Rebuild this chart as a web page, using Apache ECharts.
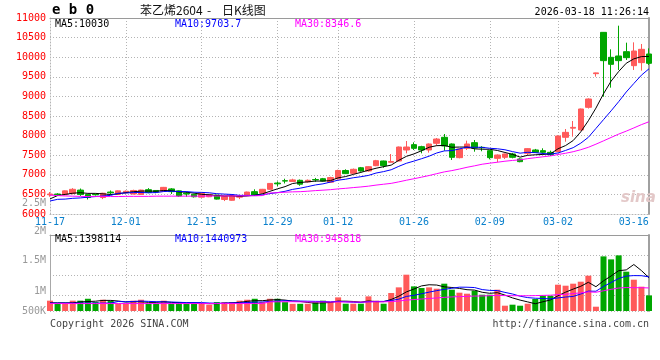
<!DOCTYPE html>
<html><head><meta charset="utf-8">
<script src="https://cdn.jsdelivr.net/npm/echarts@6/dist/echarts.min.js"></script>
<style>html,body{margin:0;padding:0;background:#fff}#c{width:660px;height:360px}</style>
</head><body><div id="c"></div>
<script>
// ---- data ----
const dates = ['11-17','11-18','11-19','11-20','11-21','11-24','11-25','11-26','11-27','11-28',
'12-01','12-02','12-03','12-04','12-05','12-08','12-09','12-10','12-11','12-12',
'12-15','12-16','12-17','12-18','12-19','12-22','12-23','12-24','12-25','12-26',
'12-29','12-30','12-31','01-05','01-06','01-07','01-08','01-09',
'01-12','01-13','01-14','01-15','01-16','01-19','01-20','01-21','01-22','01-23',
'01-26','01-27','01-28','01-29','01-30','02-02','02-03','02-04','02-05','02-06',
'02-09','02-10','02-11','02-12','02-13','02-24','02-25','02-26','02-27',
'03-02','03-03','03-04','03-05','03-06','03-09','03-10','03-11','03-12','03-13',
'03-16','03-17','03-18'];
const xTickLabels = ['11-17','12-01','12-15','12-29','01-12','01-26','02-09','03-02','03-16'];
const opens  = [6490,6510,6490,6520,6610,6500,6500,6420,6560,6500,6540,6510,6500,6620,6600,6580,6640,6590,6530,6500,
6430,6440,6480,6370,6350,6430,6470,6570,6530,6630,6790,6850,6830,6860,6820,6880,6900,6810,6900,7110,
7037,7180,7097,7233,7352,7320,7352,7633,7769,7718,7633,7803,7956,7786,7437,7675,7820,7700,7616,7420,
7446,7531,7403,7548,7633,7616,7573,7590,7956,8190,8143,8721,9580,10634,9997,10031,10141,9784,9861,10082];
const closes = [6510,6490,6590,6630,6500,6420,6490,6530,6540,6590,6580,6600,6610,6550,6560,6680,6570,6460,6510,6440,
6530,6500,6380,6450,6460,6450,6560,6470,6630,6780,6770,6840,6870,6760,6860,6870,6840,6930,7110,7030,
7140,7097,7207,7360,7233,7340,7709,7709,7675,7633,7786,7913,7735,7446,7658,7786,7684,7690,7437,7505,
7531,7446,7335,7667,7573,7573,7514,7990,8083,8210,8679,8934,9600,9912,9818,9912,9988,10158,10201,9844];
const highs  = [6560,6530,6600,6660,6650,6510,6520,6540,6600,6600,6600,6620,6620,6660,6610,6690,6660,6600,6570,6510,
6540,6510,6490,6460,6470,6480,6570,6630,6640,6790,6830,6900,6900,6880,6880,6920,6920,6950,7130,7140,
7160,7200,7220,7380,7360,7530,7720,7862,7828,7740,7800,7939,8041,7800,7670,7871,7888,7730,7630,7520,
7540,7560,7420,7676,7660,7676,7616,8000,8168,8373,8690,8950,9605,10640,10201,10804,10371,10379,10337,10226];
const lows   = [6440,6470,6480,6500,6460,6370,6470,6380,6500,6490,6520,6500,6490,6530,6530,6570,6510,6440,6440,6420,
6420,6430,6370,6330,6340,6380,6460,6460,6520,6620,6710,6780,6820,6720,6800,6820,6830,6800,6880,7020,
7020,7080,7080,7220,7180,7310,7340,7548,7633,7548,7565,7743,7616,7378,7420,7633,7590,7600,7395,7318,
7403,7420,7320,7505,7560,7530,7480,7580,7845,7973,8130,8690,9504,8993,9223,9674,9929,9674,9657,9801];
const volumes = [430000,300000,300000,430000,430000,510000,370000,470000,430000,300000,
300000,430000,470000,300000,300000,430000,300000,370000,300000,300000,
300000,260000,370000,370000,370000,430000,470000,510000,370000,510000,
510000,370000,300000,300000,300000,370000,430000,374000,568000,304000,
304000,304000,610000,429000,304000,749000,985000,1513000,1026000,957000,
985000,929000,1138000,888000,763000,721000,846000,679000,679000,888000,
221000,263000,221000,304000,499000,638000,638000,1096000,1054000,1138000,
1221000,1471000,179000,2276000,2151000,2318000,1638000,1304000,1013000,651000];
const ma5Lead  = [6385,6470,6500,6530];
const ma10Lead = [6332,6374,6380,6400,6410,6430,6445,6460,6475];
const ma30Lead = [6480,6470,6460,6455,6450,6445,6445,6445,6445,6445,6450,6450,6450,6450,6455,6455,6455,6455,6455,6455,6455,6460,6460,6460,6460,6460,6465,6465,6470];
const volMa5Lead  = [340000,340000,340000,340000];
const volMa10Lead = [330000,330000,330000,330000,330000,330000,330000,330000,330000];
const volMa30Lead = [310000,310000,310000,310000,310000,310000,310000,310000,310000,310000,310000,310000,310000,310000,310000,310000,310000,310000,310000,310000,310000,310000,310000,310000,310000,310000,310000,310000,310000];
const mainTicks = {min:6000, max:11000, step:500};
const volTickLabels = ['500K','1M','1.5M','2M','2.5M'];
const volTickPos = [0,20,51,80,108];
const header = {code:'e b 0', name:'苯乙烯2604', dash:'-', kind:'日K线图', time:'2026-03-18 11:26:14'};
const maText = ['MA5:10030','MA10:9703.7','MA30:8346.6'];
const volMaText = ['MA5:1398114','MA10:1440973','MA30:945818'];

// ---- helpers ----
function ma(arr, n, lead){
  return arr.map((_, i) => {
    if (i < n - 1) return lead[i];
    let s = 0; for (let k = i - n + 1; k <= i; k++) s += arr[k];
    return +(s / n).toFixed(2);
  });
}
const RED = '#ff5a5a', GREEN = '#00a600';
const MONO = '"DejaVu Sans Mono", "Liberation Mono", monospace';
const kData = opens.map((o, i) => [o, closes[i], lows[i], highs[i]]);
const volData = volumes.map((v, i) => ({value: v, itemStyle: {color: closes[i] >= opens[i] ? RED : GREEN}}));
const isTick = (i, v) => xTickLabels.includes(v);
const isGrid = (i, v) => xTickLabels.includes(v) && v !== xTickLabels[xTickLabels.length - 1] && i > 0;
const dotted = {color: '#b4b4b4', type: [1, 2], width: 1};

function txt(x, y, t, fill, font, align){
  return {type:'text', x, y, silent:true, z:100,
    style:{text:t, fill, font, align: align||'left', verticalAlign:'middle', textAlign: align||'left', textVerticalAlign:'middle'}};
}

const chart = echarts.init(document.getElementById('c'), null, {renderer:'canvas'});
const line = (name, data, color, xi, yi) => ({name, type:'line', data, xAxisIndex:xi, yAxisIndex:yi, showSymbol:false,
  symbol:'none', lineStyle:{color, width:1}, itemStyle:{color}, animation:false, silent:true, z:5});

chart.setOption({
  animation:false,
  backgroundColor:'#fff',
  grid:[
    {left:50, top:18, width:599, height:196},
    {left:50, top:235, width:599, height:76},
    {left:50, top:203, width:599, height:108}
  ],
  xAxis:[
    {type:'category', gridIndex:0, data:dates, boundaryGap:false, position:'bottom',
     axisLine:{show:true, lineStyle:dotted}, axisTick:{show:false},
     axisLabel:{interval:isTick, color:'#0a80cc', fontFamily:MONO, fontSize:10, margin:3, hideOverlap:false},
     splitLine:{show:true, interval:isGrid, lineStyle:dotted}},
    {type:'category', gridIndex:0, data:dates, boundaryGap:false, position:'top',
     axisLine:{show:true, lineStyle:{color:'#9a9a9a', width:1}}, axisTick:{show:false}, axisLabel:{show:false}, splitLine:{show:false}},
    {type:'category', gridIndex:1, data:dates, boundaryGap:false, position:'bottom',
     axisLine:{show:false}, axisTick:{show:false}, axisLabel:{show:false},
     splitLine:{show:true, interval:isGrid, lineStyle:dotted}},
    {type:'category', gridIndex:1, data:dates, boundaryGap:false, position:'top',
     axisLine:{show:true, lineStyle:{color:'#9a9a9a', width:1}}, axisTick:{show:false}, axisLabel:{show:false}, splitLine:{show:false}},
    {type:'category', gridIndex:2, data:dates, show:false}
  ],
  yAxis:[
    {type:'value', gridIndex:0, min:mainTicks.min, max:mainTicks.max, interval:mainTicks.step, position:'left',
     axisLine:{show:true, lineStyle:dotted}, axisTick:{show:false},
     axisLabel:{color:'#ff0000', fontFamily:MONO, fontSize:10, margin:4, showMinLabel:true, showMaxLabel:true, hideOverlap:false,
       padding:[0,0,3,0], formatter:(v) => String(v)},
     splitLine:{show:true, lineStyle:dotted}},
    {type:'value', gridIndex:0, position:'right', min:mainTicks.min, max:mainTicks.max,
     axisLine:{show:true, lineStyle:{color:'#a0a0a0', width:2}}, axisTick:{show:false}, axisLabel:{show:false}, splitLine:{show:false}},
    {type:'value', gridIndex:1, min:0, max:3166667, position:'left',
     axisLine:{show:true, lineStyle:{color:'#a8a8a8', width:1}}, axisTick:{show:false}, axisLabel:{show:false}, splitLine:{show:false}},
    {type:'value', gridIndex:1, min:0, max:76, interval:20, inverse:true, position:'left', offset:0,
     axisLine:{show:false}, axisTick:{show:false}, axisLabel:{show:false}, splitLine:{show:true, lineStyle:dotted}},
    {type:'value', gridIndex:1, position:'right', min:0, max:76,
     axisLine:{show:true, lineStyle:{color:'#a0a0a0', width:2}}, axisTick:{show:false}, axisLabel:{show:false}, splitLine:{show:false}},
    {type:'value', gridIndex:2, min:0, max:108, position:'left',
     axisLine:{show:false}, axisTick:{show:false}, splitLine:{show:false},
     axisLabel:{customValues:volTickPos, showMinLabel:true, showMaxLabel:true, hideOverlap:false,
       formatter:(v) => volTickLabels[volTickPos.indexOf(v)] || '', color:'#999999', fontFamily:MONO, fontSize:10, margin:4}}
  ],
  series:[
    {name:'K', type:'candlestick', xAxisIndex:0, yAxisIndex:0, data:kData, barWidth:6, z:3,
     itemStyle:{color:RED, color0:GREEN, borderColor:RED, borderColor0:GREEN, borderWidth:1}},
    line('MA5', ma(closes,5,ma5Lead), '#000000', 0, 0),
    line('MA10', ma(closes,10,ma10Lead), '#0000ff', 0, 0),
    line('MA30', ma(closes,30,ma30Lead), '#ff00ff', 0, 0),
    {name:'VOL', type:'bar', xAxisIndex:2, yAxisIndex:2, data:volData, barWidth:6, z:3},
    line('VMA5', ma(volumes,5,volMa5Lead), '#000000', 2, 2),
    line('VMA10', ma(volumes,10,volMa10Lead), '#0000ff', 2, 2),
    line('VMA30', ma(volumes,30,volMa30Lead), '#ff00ff', 2, 2)
  ],
  graphic:[
    txt(52, 10, header.code, '#000', 'bold 14px ' + MONO),
    txt(140, 10, header.name, '#111', '12px "Noto Sans CJK SC"'),
    txt(207, 10, header.dash, '#111', '12px "Noto Sans CJK SC"'),
    txt(222, 10, header.kind, '#111', '12px "Noto Sans CJK SC"'),
    txt(649, 12, header.time, '#000', '10px ' + MONO, 'right'),
    txt(55, 24, maText[0], '#000000', '10px ' + MONO),
    txt(175, 24, maText[1], '#0000ff', '10px ' + MONO),
    txt(295, 24, maText[2], '#ff00ff', '10px ' + MONO),
    txt(55, 239, volMaText[0], '#000000', '10px ' + MONO),
    txt(175, 239, volMaText[1], '#0000ff', '10px ' + MONO),
    txt(295, 239, volMaText[2], '#ff00ff', '10px ' + MONO),
    txt(50, 324, 'Copyright 2026 SINA.COM', '#444', '10px ' + MONO),
    txt(649, 324, 'http://finance.sina.com.cn', '#444', '10px ' + MONO, 'right'),
    txt(621, 198, 'sina', '#e3c8c8', 'italic bold 15px "DejaVu Sans"')
  ]
});
</script></body></html>
